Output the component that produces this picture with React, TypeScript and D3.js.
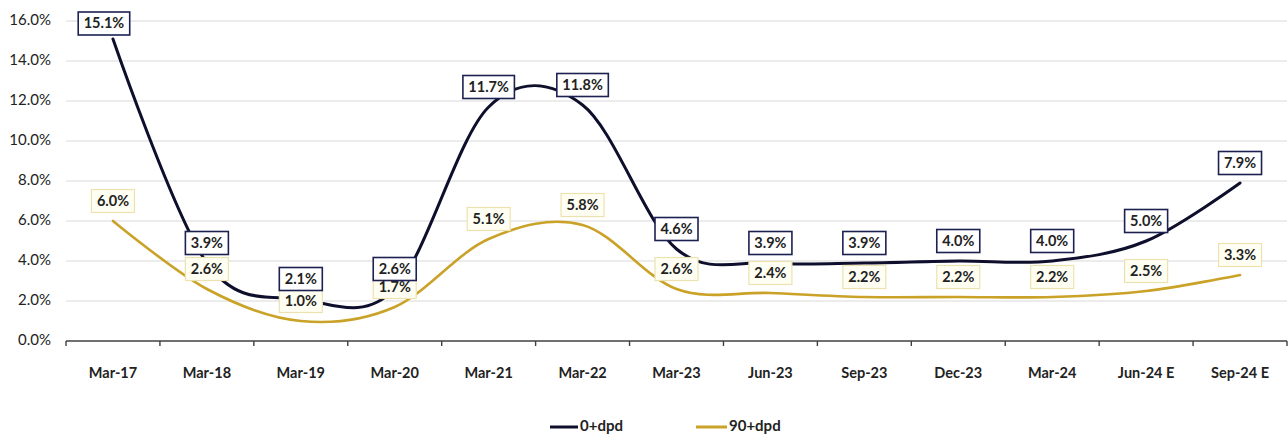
import React from "react";
import * as d3 from "d3";

const categories = ["Mar-17", "Mar-18", "Mar-19", "Mar-20", "Mar-21", "Mar-22", "Mar-23", "Jun-23", "Sep-23", "Dec-23", "Mar-24", "Jun-24 E", "Sep-24 E"];
const dpd0 = [15.1, 3.9, 2.1, 2.6, 11.7, 11.8, 4.6, 3.9, 3.9, 4.0, 4.0, 5.0, 7.9];
const dpd90 = [6.0, 2.6, 1.0, 1.7, 5.1, 5.8, 2.6, 2.4, 2.2, 2.2, 2.2, 2.5, 3.3];
const yTicks = [0, 2, 4, 6, 8, 10, 12, 14, 16];
const seriesNames = ["0+dpd", "90+dpd"];

const W = 1288;
const H = 437;
const FONT = "Lato, 'Open Sans', sans-serif";

export default function App() {
  const x = d3.scaleBand<string>().domain(categories).range([66, 1287]);
  const y = d3.scaleLinear().domain([0, 16]).range([341, 21]);
  const cx = (c: string) => (x(c) as number) + x.bandwidth() / 2;

  const line = d3
    .line<number>()
    .x((_, i) => cx(categories[i]))
    .y((d) => y(d))
    .curve(d3.curveCardinal.tension(0));

  const series = [
    { name: seriesNames[0], values: dpd0, color: "#0e0f2c", width: 3, boxFill: "#ffffff", boxStroke: "#1c2152", boxStrokeW: 1.6 },
    { name: seriesNames[1], values: dpd90, color: "#c9a227", width: 2.6, boxFill: "#fffef3", boxStroke: "#ece2b0", boxStrokeW: 1.2 },
  ];

  const boundaries = d3.range(categories.length + 1).map((i) => 66 + i * x.bandwidth());

  const labels = (s: typeof series[0]) =>
    s.values.map((v, i) => {
      const txt = v.toFixed(1) + "%";
      const w = txt.length * 8.5 + 9;
      const h = 23;
      let cyL = y(v) - 20;
      let dx = 0;
      if (cyL - h / 2 < 12) {
        cyL = 12 + h / 2;
        dx = -9;
      }
      const cxL = cx(categories[i]) + dx;
      return (
        <g key={s.name + i}>
          <rect x={cxL - w / 2} y={cyL - h / 2} width={w} height={h} fill={s.boxFill} stroke={s.boxStroke} strokeWidth={s.boxStrokeW} />
          <text x={cxL} y={cyL + 1} textAnchor="middle" dominantBaseline="middle" fontFamily={FONT} fontSize={14.5} fontWeight={700} fill="#222">
            {txt}
          </text>
        </g>
      );
    });

  return (
    <svg width={W} height={H} style={{ position: "absolute", left: 0, top: 0, background: "#fff" }}>
      {yTicks.map((t) => (
        <g key={t}>
          {t > 0 && <line x1={66} x2={1287} y1={y(t)} y2={y(t)} stroke="#d9d9d9" strokeWidth={1.2} />}
          <text x={51} y={y(t)} textAnchor="end" dominantBaseline="middle" fontFamily={FONT} fontSize={15} fill="#222">
            {t.toFixed(1) + "%"}
          </text>
        </g>
      ))}
      <line x1={66} x2={1287} y1={y(0)} y2={y(0)} stroke="#404040" strokeWidth={1.4} />
      {boundaries.map((b, i) => (
        <line key={i} x1={b} x2={b} y1={y(0)} y2={y(0) + 5} stroke="#404040" strokeWidth={1.4} />
      ))}
      {categories.map((c) => (
        <text key={c} x={cx(c)} y={374} textAnchor="middle" dominantBaseline="middle" fontFamily={FONT} fontSize={14.5} fontWeight={700} fill="#222">
          {c}
        </text>
      ))}
      {[series[1], series[0]].map((s) => (
        <path key={s.name} d={line(s.values) || ""} fill="none" stroke={s.color} strokeWidth={s.width} strokeLinecap="round" />
      ))}
      {labels(series[1])}
      {labels(series[0])}
      <g>
        <line x1={550} x2={578} y1={427} y2={427} stroke={series[0].color} strokeWidth={3} />
        <text x={580} y={427} dominantBaseline="middle" fontFamily={FONT} fontSize={15} fontWeight={700} fill="#222">
          {seriesNames[0]}
        </text>
        <line x1={696} x2={727} y1={427} y2={427} stroke={series[1].color} strokeWidth={3} />
        <text x={729} y={427} dominantBaseline="middle" fontFamily={FONT} fontSize={15} fontWeight={700} fill="#222">
          {seriesNames[1]}
        </text>
      </g>
    </svg>
  );
}
